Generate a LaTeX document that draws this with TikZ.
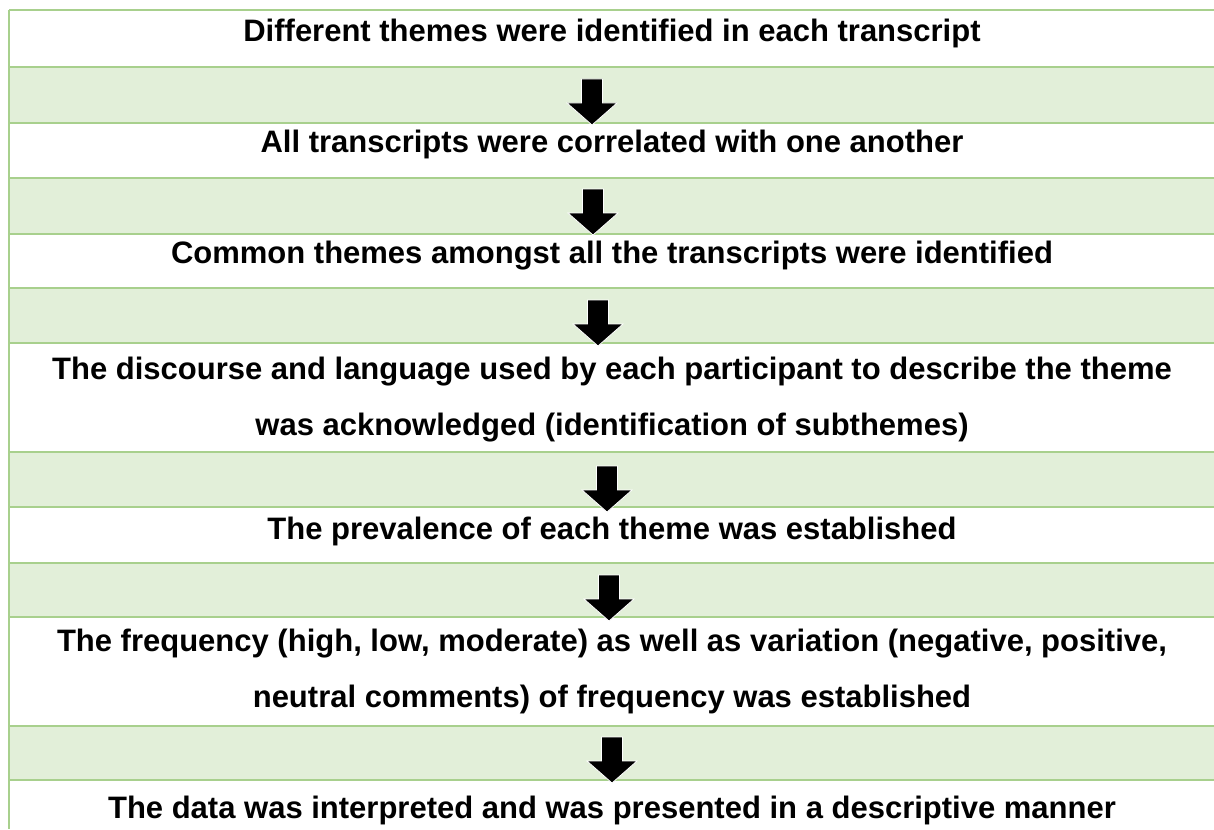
\documentclass[tikz,border=0pt]{standalone}
\usepackage{fontspec}
\setmainfont{Liberation Sans}
\definecolor{gridline}{HTML}{A8D08D}
\definecolor{bandfill}{HTML}{E2EFD9}
\newcommand{\downblock}[1]{\draw[blockarrow, shift={(#1)}] (-10.5,0) -- (10.5,0) -- (10.5,24) -- (25,24) -- (0,46) -- (-25,24) -- (-10.5,24) -- cycle;}

\begin{document}
\begin{tikzpicture}[x=1pt,y=-1pt,
    stage/.style={anchor=base, align=center, inner sep=0pt, font=\bfseries\fontsize{31}{56}\selectfont},
    band/.style={fill=bandfill},
    rule/.style={draw=gridline, line width=1.6pt},
    blockarrow/.style={fill=black, draw=white, line width=0.8pt}]
    \useasboundingbox (0,0) rectangle (1214,829);

    % green bands
    \fill[band] (9,66) rectangle (1214,123);
    \fill[band] (9,178) rectangle (1214,234);
    \fill[band] (9,288) rectangle (1214,343);
    \fill[band] (9,452) rectangle (1214,507);
    \fill[band] (9,563) rectangle (1214,617);
    \fill[band] (9,726) rectangle (1214,780);

    % grid lines
    \draw[rule] (9,10) -- (1214,10);
    \draw[rule, line width=2.8pt] (9,67) -- (1214,67);
    \draw[rule] (9,123) -- (1214,123);
    \draw[rule] (9,178) -- (1214,178);
    \draw[rule] (9,234) -- (1214,234);
    \draw[rule] (9,288) -- (1214,288);
    \draw[rule] (9,343) -- (1214,343);
    \draw[rule] (9,452) -- (1214,452);
    \draw[rule] (9,507) -- (1214,507);
    \draw[rule] (9,563) -- (1214,563);
    \draw[rule] (9,617) -- (1214,617);
    \draw[rule] (9,726) -- (1214,726);
    \draw[rule] (9,780) -- (1214,780);
    \draw[rule] (9,10) -- (9,829);

    % stages (anchor base = last line)
    \node[stage] (s1) at (612,41.5) {Different themes were identified in each transcript};
    \node[stage] (s2) at (612,153) {All transcripts were correlated with one another};
    \node[stage] (s3) at (612,263) {Common themes amongst all the transcripts were identified};
    \node[stage] (s4) at (612,435) {The discourse and language used by each participant to describe the theme\\was acknowledged (identification of subthemes)};
    \node[stage] (s5) at (612,539) {The prevalence of each theme was established};
    \node[stage] (s6) at (612,707) {The frequency (high, low, moderate) as well as variation (negative, positive,\\neutral comments) of frequency was established};
    \node[stage] (s7) at (612,818) {The data was interpreted and was presented in a descriptive manner};

    % arrows
    \coordinate (a1) at (592,79);
    \coordinate (a2) at (593,189);
    \coordinate (a3) at (598,300);
    \coordinate (a4) at (607,466);
    \coordinate (a5) at (609,575);
    \coordinate (a6) at (612,737);
    \downblock{a1}
    \downblock{a2}
    \downblock{a3}
    \downblock{a4}
    \downblock{a5}
    \downblock{a6}
\end{tikzpicture}
\end{document}
